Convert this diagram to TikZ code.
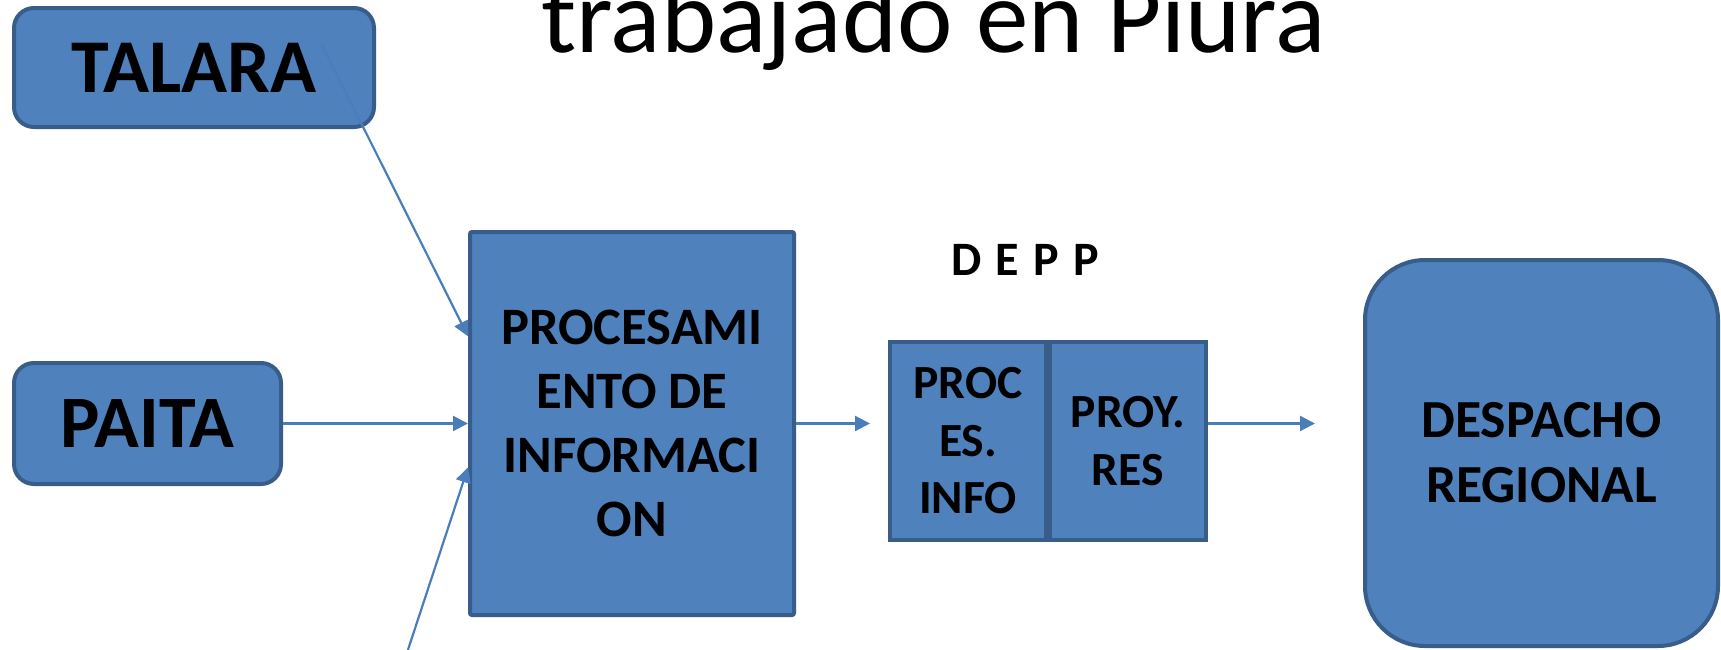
\documentclass[tikz,border=0pt]{standalone}
\usepackage{fontspec}
\setmainfont{Carlito}
\usepackage{xcolor}
\usetikzlibrary{arrows.meta,positioning}

\definecolor{boxfill}{HTML}{4F81BD}
\definecolor{boxline}{HTML}{385D8A}
\definecolor{linkcol}{HTML}{4A7EBB}

\begin{document}
\begin{tikzpicture}[
  x=0.5pt, y=-0.5pt,
  place/.style={rectangle, rounded corners=10pt, draw=boxline, line width=2pt, fill=boxfill, text centered},
  block/.style={rectangle, rounded corners=1pt, draw=boxline, line width=2pt, fill=boxfill, align=center},
  arrow/.style={draw=linkcol, line width=1.1pt, -{Triangle[length=7.5pt,width=7.5pt]}}
]
\useasboundingbox (0,0) rectangle (1721,649);
\fill [white] (0,0) rectangle (1721,649);

% Title (cut off at the top)
\node (title) [anchor=base, inner sep=0pt, font=\fontsize{52.5}{60}\selectfont] at (933.5,52) {trabajado en Piura};

% Sources
\node (talara) [place, minimum width=180pt, minimum height=59.5pt, font=\bfseries\fontsize{38}{44}\selectfont] at (194,67.5) {TALARA};
\node (paita) [place, minimum width=133.5pt, minimum height=60.5pt, font=\bfseries\fontsize{37}{44}\selectfont] at (147.5,423.5) {PAITA};
\coordinate (talaraout) at (322,45);
\coordinate (otra) at (402,668);

% Processing
\node (info) [block, minimum width=162pt, minimum height=191.5pt, font=\bfseries\fontsize{26.3}{32}\selectfont] at (632,423.5) {PROCESAMI\\ENTO DE\\INFORMACI\\ON};

% DEPP
\node (proces) [block, rounded corners=0pt, minimum width=78pt, minimum height=99pt, font=\bfseries\fontsize{23.8}{28.75}\selectfont] at (968,441) {PROC\\ES.\\INFO};
\node (proyres) [block, rounded corners=0pt, minimum width=78pt, minimum height=99pt, font=\bfseries\fontsize{23.8}{28.75}\selectfont, right=0pt of proces] {PROY.\\RES};
\node (depp) [inner sep=0pt, font=\bfseries\fontsize{24}{28}\selectfont] at (1025,260) {\spaceskip=0.3em\relax D E P P};

% Destination
\node (despacho) [place, rounded corners=30pt, minimum width=176.5pt, minimum height=193pt, align=center, font=\bfseries\fontsize{26.8}{32.5}\selectfont] at (1541.5,453) {DESPACHO\\REGIONAL};

% Connections
\draw [arrow] (talaraout) -- (info.152);
\draw [arrow] (paita) -- (info);
\draw [arrow] (otra) -- (info.195);
\draw [arrow, shorten >=9pt] (info.east) -- (info.east -| proces.west);
\draw [arrow, shorten >=24pt] (proyres.east |- info.east) -- (despacho.west |- info.east);

\end{tikzpicture}
\end{document}
